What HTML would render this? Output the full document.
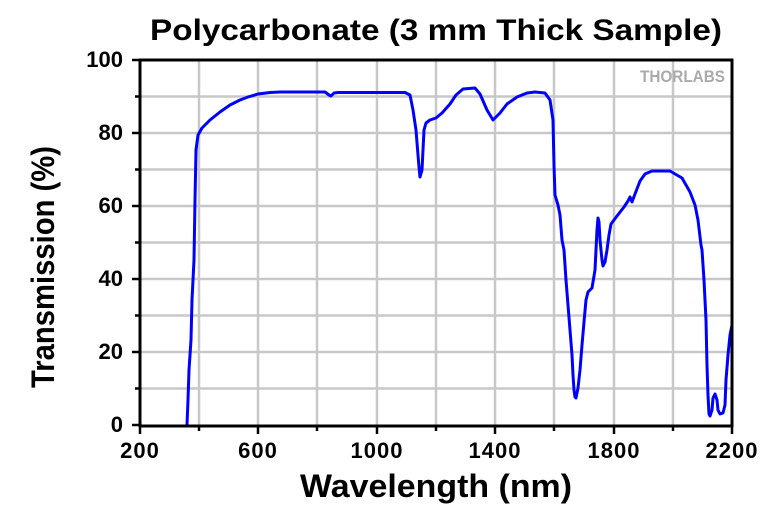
<!DOCTYPE html>
<html><head><meta charset="utf-8"><style>
html,body{margin:0;padding:0;background:#fff;}
svg{display:block;font-family:"Liberation Sans",Arial,sans-serif;font-weight:bold;}
</style></head><body>
<svg width="780" height="511" viewBox="0 0 780 511" xmlns="http://www.w3.org/2000/svg">
<rect width="780" height="511" fill="#fff"/>
<g stroke="#c8c8c8" stroke-width="2.5">
<line x1="199" y1="60" x2="199" y2="425"/><line x1="258" y1="60" x2="258" y2="425"/><line x1="317" y1="60" x2="317" y2="425"/><line x1="377" y1="60" x2="377" y2="425"/><line x1="436" y1="60" x2="436" y2="425"/><line x1="495" y1="60" x2="495" y2="425"/><line x1="554" y1="60" x2="554" y2="425"/><line x1="614" y1="60" x2="614" y2="425"/><line x1="673" y1="60" x2="673" y2="425"/>
<line x1="140" y1="388.5" x2="732" y2="388.5"/><line x1="140" y1="352" x2="732" y2="352"/><line x1="140" y1="315.5" x2="732" y2="315.5"/><line x1="140" y1="279" x2="732" y2="279"/><line x1="140" y1="242.5" x2="732" y2="242.5"/><line x1="140" y1="206" x2="732" y2="206"/><line x1="140" y1="169.5" x2="732" y2="169.5"/><line x1="140" y1="133" x2="732" y2="133"/><line x1="140" y1="96.5" x2="732" y2="96.5"/>
</g>
<text x="640" y="82" font-size="17" fill="#aaa" textLength="85" lengthAdjust="spacingAndGlyphs">THORLABS</text>
<polyline fill="none" stroke="#0000ff" stroke-width="3" stroke-linejoin="round" points="187,425 188,400 189,370 191,340 192,300 194,260 195,200 196,150 198,135 202,128 210,120 220,112 230,105 240,100 248,97 258,94 270,92.5 280,92 325,92 329,95 331,96 334,93 338,92.5 380,92.5 405,92.5 410,95 413,110 416,130 418,155 419,167 420,177 422,170 423,150 424,130 426,123 430,120 436,118 442,113 450,104 456,95 463,89 475,88 480,94 487,110 493,120 500,113 507,104 517,97 527,93 535,92 545,93 550,100 553,120 554,165 555,195 558,205 560,215 562,240 564,250 566,280 568,305 570,330 572,355 573,375 574,390 575,397 576,398 578,388 580,370 582,345 584,322 586,300 588,292 592,288 595,270 596,250 597,230 598,218 599,222 600,240 602,260 603,266 605,262 607,250 609,235 611,224 617,216 624,207 628,201 630,197 632,202 635,194 640,181 645,174 652,171 670,171 682,178 690,192 695,205 698,220 701,245 702,250 704,280 706,320 707,365 708,395 709,414 710,416 712,410 713,398 715,394 717,400 718,410 720,414 723,413 725,405 726,380 728,355 730,335 732,325"/>
<g stroke="#000" stroke-width="3" fill="none">
<rect x="140" y="60" width="592" height="366"/>
</g>
<g stroke="#000" stroke-width="2.5">
<line x1="132" y1="60" x2="140" y2="60"/><line x1="132" y1="133" x2="140" y2="133"/><line x1="132" y1="206" x2="140" y2="206"/><line x1="132" y1="279" x2="140" y2="279"/><line x1="132" y1="352" x2="140" y2="352"/><line x1="132" y1="425" x2="140" y2="425"/>
<line x1="135" y1="96.5" x2="140" y2="96.5"/><line x1="135" y1="169.5" x2="140" y2="169.5"/><line x1="135" y1="242.5" x2="140" y2="242.5"/><line x1="135" y1="315.5" x2="140" y2="315.5"/><line x1="135" y1="388.5" x2="140" y2="388.5"/>
<line x1="140" y1="426" x2="140" y2="434"/><line x1="258" y1="426" x2="258" y2="434"/><line x1="377" y1="426" x2="377" y2="434"/><line x1="495" y1="426" x2="495" y2="434"/><line x1="614" y1="426" x2="614" y2="434"/><line x1="732" y1="426" x2="732" y2="434"/>
<line x1="199" y1="426" x2="199" y2="431"/><line x1="317" y1="426" x2="317" y2="431"/><line x1="436" y1="426" x2="436" y2="431"/><line x1="554" y1="426" x2="554" y2="431"/><line x1="673" y1="426" x2="673" y2="431"/>
</g>
<g font-size="22" text-anchor="end">
<text x="123" y="67">100</text><text x="123" y="140">80</text><text x="123" y="213">60</text><text x="123" y="286">40</text><text x="123" y="359">20</text><text x="123" y="432">0</text>
</g>
<g font-size="22" text-anchor="middle" letter-spacing="1">
<text x="140" y="458">200</text><text x="258" y="458">600</text><text x="377" y="458">1000</text><text x="495" y="458">1400</text><text x="614" y="458">1800</text><text x="732" y="458">2200</text>
</g>
<text x="150" y="40" font-size="30" textLength="572" lengthAdjust="spacingAndGlyphs">Polycarbonate (3 mm Thick Sample)</text>
<text x="300" y="497" font-size="32" textLength="272" lengthAdjust="spacingAndGlyphs">Wavelength (nm)</text>
<text transform="translate(54,388) rotate(-90)" font-size="32" textLength="242" lengthAdjust="spacingAndGlyphs">Transmission (%)</text>
</svg>
</body></html>
